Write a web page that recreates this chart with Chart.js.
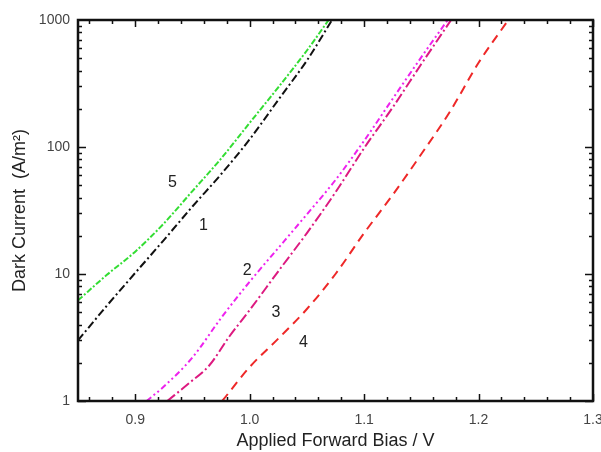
<!DOCTYPE html>
<html>
<head>
<meta charset="utf-8">
<script src="https://cdn.jsdelivr.net/npm/chart.js"></script>
<style>
  html, body { margin: 0; padding: 0; background: #fff; }
  #wrap { width: 601px; height: 452px; }
</style>
</head>
<body>
<div id="wrap"><canvas id="chart"></canvas></div>
<script>
// --- Data (bias in V, current in A/m^2) ---
const curve5X = [0.85, 0.875, 0.9, 0.925, 0.95, 0.975, 1.0, 1.025, 1.05, 1.069];
const curve5Y = [6.2, 9.8, 15, 25, 45, 81, 155, 295, 575, 1000];

const curve1X = [0.85, 0.875, 0.9, 0.925, 0.95, 0.975, 1.0, 1.025, 1.05, 1.072];
const curve1Y = [3.0, 5.6, 10.2, 18.5, 34, 61, 115, 235, 480, 1000];

const curve2X = [0.91, 0.925, 0.95, 0.975, 1.0, 1.025, 1.05, 1.075, 1.1, 1.125, 1.15, 1.173];
const curve2Y = [1.0, 1.3, 2.2, 4.5, 8.7, 16, 29.5, 55, 112, 240, 510, 1000];

const curve3X = [0.928, 0.947, 0.965, 0.982, 1.0, 1.025, 1.05, 1.075, 1.1, 1.125, 1.15, 1.176];
const curve3Y = [1.0, 1.38, 1.92, 3.2, 5.2, 10.5, 21, 44, 98, 205, 450, 1000];

const curve4X = [0.976, 1.0, 1.025, 1.05, 1.075, 1.1, 1.125, 1.15, 1.175, 1.2, 1.226];
const curve4Y = [1.0, 1.85, 3.1, 5.3, 10, 21, 42, 88, 190, 460, 1000];

// curve number labels, placed in data coordinates
const labelText = ['5', '1', '2', '3', '4'];
const labelX = [0.9326, 0.9596, 0.9978, 1.023, 1.047];
const labelY = [52, 23.9, 10.7, 5.0, 2.86];

const xTickLabels = [0.9, 1.0, 1.1, 1.2, 1.3];
const yTickLabels = [1, 10, 100, 1000];

function pts(xs, ys) {
    return xs.map((x, i) => ({ x: x, y: ys[i] }));
}

function series(xs, ys, color, dash) {
    return {
        data: pts(xs, ys),
        borderColor: color,
        borderWidth: 2,
        borderDash: dash,
        pointRadius: 0,
        cubicInterpolationMode: 'monotone',
        fill: false
    };
}

// draws the closed frame with inward major/minor ticks on all four sides
const frameTicks = {
    id: 'frameTicks',
    afterDraw(chart) {
        const { ctx, chartArea: a, scales: { x, y } } = chart;
        ctx.save();
        ctx.strokeStyle = '#111';
        ctx.lineWidth = 1.5;
        ctx.beginPath();
        for (let i = 43; i <= 65; i++) {
            const px = Math.round(x.getPixelForValue(i / 50)) + 0.5;
            const len = i % 5 === 0 ? 7 : 4;
            ctx.moveTo(px, a.bottom); ctx.lineTo(px, a.bottom - len);
            ctx.moveTo(px, a.top); ctx.lineTo(px, a.top + len);
        }
        for (let d = 0; d < 3; d++) {
            for (let m = 1; m <= 9; m++) {
                const py = Math.round(y.getPixelForValue(m * Math.pow(10, d))) + 0.5;
                const len = m === 1 ? 8 : 4;
                ctx.moveTo(a.left, py); ctx.lineTo(a.left + len, py);
                ctx.moveTo(a.right, py); ctx.lineTo(a.right - len, py);
            }
        }
        ctx.stroke();
        ctx.lineWidth = 2.5;
        ctx.strokeRect(a.left, a.top, a.right - a.left, a.bottom - a.top);

        // curve numbers
        ctx.fillStyle = '#222';
        ctx.font = '16px "Liberation Sans", Arial, sans-serif';
        ctx.textAlign = 'center';
        ctx.textBaseline = 'middle';
        labelText.forEach((t, i) => {
            ctx.fillText(t, x.getPixelForValue(labelX[i]), y.getPixelForValue(labelY[i]));
        });
        ctx.restore();
    }
};

const tickFont = { family: '"Liberation Sans", Arial, sans-serif', size: 14 };
const titleFont = { family: '"Liberation Sans", Arial, sans-serif', size: 18 };

new Chart(document.getElementById('chart'), {
    type: 'line',
    data: {
        datasets: [
            series(curve5X, curve5Y, '#33dd33', [6, 2, 2, 2]),
            series(curve1X, curve1Y, '#111111', [8, 3, 2, 3]),
            series(curve2X, curve2Y, '#ee22ee', [6, 3, 2, 3, 2, 3]),
            series(curve3X, curve3Y, '#dd1a80', [10, 3, 2, 3]),
            series(curve4X, curve4Y, '#ee2828', [9, 6])
        ]
    },
    options: {
        responsive: true,
        maintainAspectRatio: false,
        animation: false,
        layout: { padding: { top: 20, right: 8, left: 0, bottom: 0 } },
        plugins: {
            legend: { display: false },
            tooltip: { enabled: false }
        },
        scales: {
            x: {
                type: 'linear',
                min: 0.85,
                max: 1.3,
                grid: { display: false, drawTicks: false },
                border: { display: false },
                ticks: {
                    stepSize: 0.1,
                    includeBounds: false,
                    autoSkip: false,
                    maxRotation: 0,
                    padding: 11,
                    color: '#444',
                    font: tickFont,
                    callback: v => xTickLabels.some(t => Math.abs(t - v) < 1e-6) ? v.toFixed(1) : ''
                },
                title: {
                    display: true,
                    text: 'Applied Forward Bias / V',
                    color: '#222',
                    font: titleFont,
                    padding: { top: 1, bottom: 0 }
                },
                afterFit: s => { s.height = 51; s.paddingLeft = 0; s.paddingRight = 0; }
            },
            y: {
                type: 'logarithmic',
                min: 1,
                max: 1000,
                grid: { display: false, drawTicks: false },
                border: { display: false },
                ticks: {
                    autoSkip: false,
                    padding: 8,
                    color: '#444',
                    font: tickFont,
                    callback: v => yTickLabels.includes(v) ? String(v) : ''
                },
                title: {
                    display: true,
                    text: 'Dark Current  (A/m\u00B2)',
                    color: '#222',
                    font: titleFont,
                    padding: { top: 9, bottom: 0 }
                },
                afterFit: s => { s.width = 78; s.paddingTop = 0; s.paddingBottom = 0; }
            }
        }
    },
    plugins: [frameTicks]
});
</script>
</body>
</html>
